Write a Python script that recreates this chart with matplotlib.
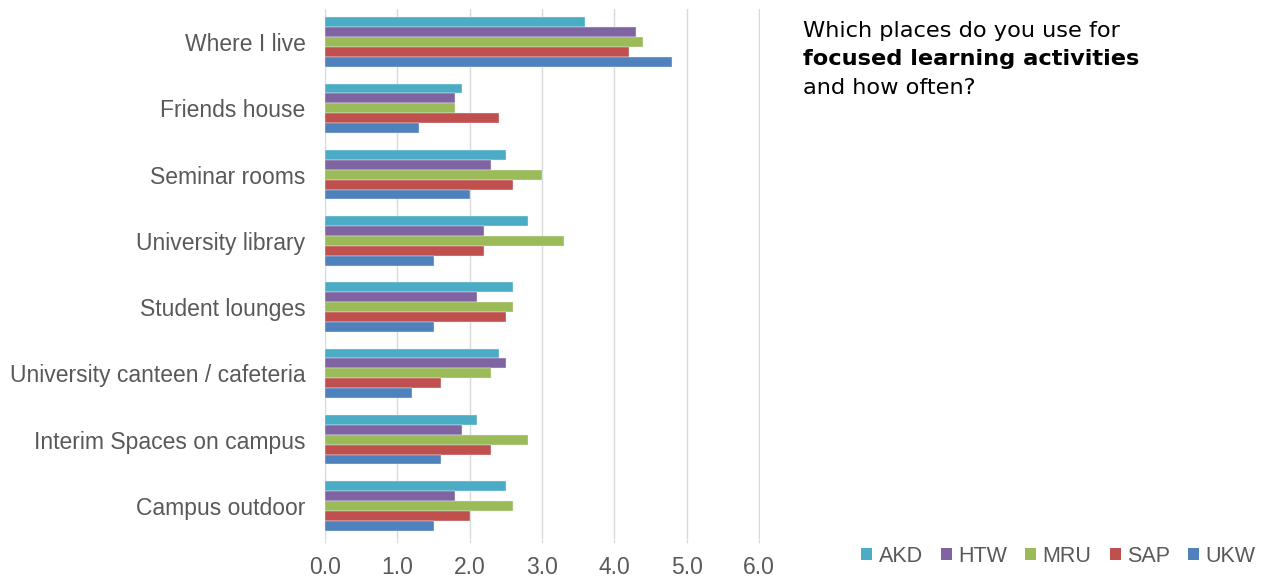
import numpy as np
import matplotlib.pyplot as plt
from matplotlib.patches import Patch

# === DATA ===

places = [
    "Where I live",
    "Friends house",
    "Seminar rooms",
    "University library",
    "Student lounges",
    "University canteen / cafeteria",
    "Interim Spaces on campus",
    "Campus outdoor",
]

akd = [3.6, 1.9, 2.5, 2.8, 2.6, 2.4, 2.1, 2.5]
htw = [4.3, 1.8, 2.3, 2.2, 2.1, 2.5, 1.9, 1.8]
mru = [4.4, 1.8, 3.0, 3.3, 2.6, 2.3, 2.8, 2.6]
sap = [4.2, 2.4, 2.6, 2.2, 2.5, 1.6, 2.3, 2.0]
ukw = [4.8, 1.3, 2.0, 1.5, 1.5, 1.2, 1.6, 1.5]

schools = ["AKD", "HTW", "MRU", "SAP", "UKW"]
colors = ["#4BACC6", "#8064A2", "#9BBB59", "#C0504D", "#4F81BD"]

# === PLOT ===

plt.rcParams["font.family"] = ["Liberation Sans", "DejaVu Sans"]
grey = "#595959"

fig = plt.figure(figsize=(12.75, 5.81), dpi=100)
ax = fig.add_axes([0.2549, 0.0723, 0.3404 * 6.02 / 6, 0.9122])

bar_h = 0.15
y = np.arange(len(places))
for i, (vals, c) in enumerate(zip([akd, htw, mru, sap, ukw], colors)):
    offs = (i - 2) * bar_h
    ax.barh(y + offs, vals, height=bar_h, color=c, edgecolor="#e8eef5",
            linewidth=0.3, zorder=3)

ax.set_ylim(len(places) - 0.5, -0.5)
ax.set_xlim(0, 6.02)
ax.set_xticks(np.arange(0, 7, 1))
ax.set_xticklabels([f"{v:.1f}" for v in range(7)])
ax.set_yticks(y)
ax.set_yticklabels(places)

ax.grid(axis="x", color="#d9d9d9", linewidth=1, zorder=0)
for s in ax.spines.values():
    s.set_visible(False)
ax.tick_params(axis="y", length=0, pad=14, labelsize=16.5, labelcolor=grey)
ax.tick_params(axis="x", length=3, color="#d9d9d9", pad=9, labelsize=16.5,
               labelcolor=grey)

# title block on the right
fig.text(0.630, 0.946, "Which places do you use for", fontsize=16.2,
         family="DejaVu Sans", va="center", color="black")
fig.text(0.630, 0.898, "focused learning activities", fontsize=16.2,
         family="DejaVu Sans", weight="bold", va="center", color="black")
fig.text(0.630, 0.848, "and how often?", fontsize=16.2,
         family="DejaVu Sans", va="center", color="black")

handles = [Patch(facecolor=c, edgecolor="none") for c in colors]
fig.legend(handles, schools, loc="center right", bbox_to_anchor=(1.0, 0.043),
           ncol=5, frameon=False, fontsize=15.5, labelcolor=grey,
           handlelength=0.5, handleheight=0.5, handletextpad=0.3,
           columnspacing=0.85)

fig.savefig("out.png", dpi=100)
